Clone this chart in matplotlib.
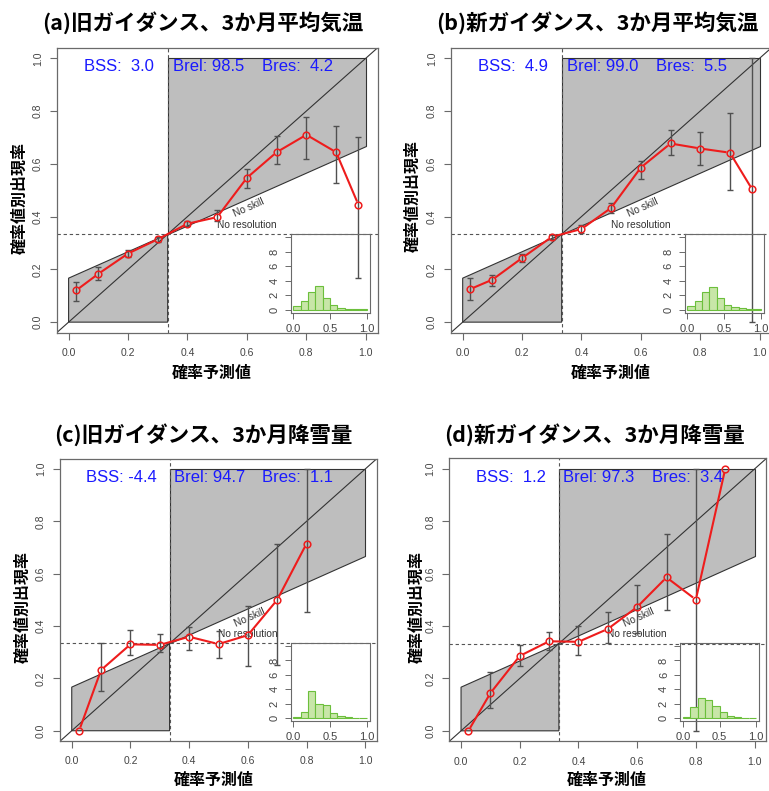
import matplotlib
matplotlib.use("Agg")
import matplotlib.pyplot as plt
import numpy as np
from matplotlib.patches import Polygon

plt.rcParams['font.family'] = ['Liberation Sans', 'Noto Sans CJK JP', 'DejaVu Sans']
CJK = ['Noto Sans CJK JP', 'DejaVu Sans']

W, H = 769, 791

# ---- data ----
titles = ["(a)旧ガイダンス、3か月平均気温", "(b)新ガイダンス、3か月平均気温",
          "(c)旧ガイダンス、3か月降雪量", "(d)新ガイダンス、3か月降雪量"]
ylabel = "確率値別出現率"
xlabel = "確率予測値"

prob_a = [0.025, 0.1, 0.2, 0.3, 0.4, 0.5, 0.6, 0.7, 0.8, 0.9, 0.975]
obs_a = [0.12, 0.183, 0.26, 0.314, 0.373, 0.398, 0.547, 0.644, 0.71, 0.644, 0.445]
lo_a = [0.079, 0.158, 0.246, 0.304, 0.363, 0.382, 0.507, 0.599, 0.619, 0.527, 0.166]
hi_a = [0.151, 0.208, 0.275, 0.323, 0.382, 0.424, 0.581, 0.704, 0.777, 0.744, 0.701]

prob_b = [0.025, 0.1, 0.2, 0.3, 0.4, 0.5, 0.6, 0.7, 0.8, 0.9, 0.975]
obs_b = [0.125, 0.161, 0.243, 0.323, 0.353, 0.433, 0.586, 0.677, 0.658, 0.642, 0.503]
lo_b = [0.085, 0.138, 0.227, 0.315, 0.338, 0.414, 0.544, 0.632, 0.595, 0.501, 0.0]
hi_b = [0.167, 0.178, 0.258, 0.329, 0.368, 0.452, 0.609, 0.727, 0.72, 0.794, 1.0]

prob_c = [0.025, 0.1, 0.2, 0.3, 0.4, 0.5, 0.6, 0.7, 0.8]
obs_c = [0.0, 0.232, 0.33, 0.328, 0.359, 0.331, 0.365, 0.5, 0.715]
lo_c = [0.0, 0.153, 0.288, 0.299, 0.309, 0.279, 0.246, 0.251, 0.454]
hi_c = [0.0, 0.335, 0.384, 0.371, 0.398, 0.382, 0.475, 0.715, 1.0]

prob_d = [0.025, 0.1, 0.2, 0.3, 0.4, 0.5, 0.6, 0.7, 0.8, 0.9]
obs_d = [0.0, 0.144, 0.286, 0.342, 0.34, 0.389, 0.473, 0.586, 0.501, 1.0]
lo_d = [0.0, 0.089, 0.247, 0.307, 0.288, 0.337, 0.373, 0.462, 0.0, 1.0]
hi_d = [0.0, 0.223, 0.326, 0.378, 0.402, 0.454, 0.558, 0.751, 1.0, 1.0]

# histogram of forecast probabilities (density, bins of 0.1)
hist_bins = [0.0, 0.1, 0.2, 0.3, 0.4, 0.5, 0.6, 0.7, 0.8, 0.9]
hist_a = [0.5, 1.2, 2.5, 3.25, 1.55, 0.6, 0.25, 0.08, 0.04, 0.03]
hist_b = [0.46, 1.15, 2.5, 3.1, 1.56, 0.6, 0.32, 0.18, 0.1, 0.05]
hist_c = [0.23, 0.92, 3.8, 1.93, 1.84, 0.74, 0.32, 0.14, 0.05, 0.03]
hist_d = [0.23, 1.56, 2.8, 2.48, 1.65, 0.83, 0.37, 0.14, 0.05, 0.03]

bss = [3.0, 4.9, -4.4, 1.2]
brel = [98.5, 99.0, 94.7, 97.3]
bres = [4.2, 5.5, 1.1, 3.4]
clim = 1 / 3

# ---- layout (pixels: left, top, right, bottom) ----
main_px = [(56.7, 47.7, 377.7, 332.7), (450.8, 47.7, 771.5, 332.7),
           (60.0, 458.5, 377.0, 741.2), (449.3, 458.5, 766.3, 741.3)]
inset_px = [(290.5, 234.3, 369.5, 312.6), (684.5, 234.3, 763.5, 312.6),
            (290.5, 643.0, 369.5, 721.2), (680.0, 643.0, 759.0, 721.2)]
title_px = [(203, 23), (597, 23), (203, 435), (594, 435)]
ylab_px = [(20, 198), (413, 196), (23, 607), (417, 607)]
xlab_px = [(212, 373), (611, 373), (214, 780), (607, 780)]


def rect(l, t, r, b):
    return [l / W, 1 - b / H, (r - l) / W, (b - t) / H]


def fxy(x, y):
    return x / W, 1 - y / H


def gapped_line(ax, x, y, gap=5.0, **kw):
    """R type='b': segments between points that stop short of each marker."""
    pts = ax.transData.transform(np.column_stack([x, y]))
    inv = ax.transData.inverted()
    for p0, p1 in zip(pts[:-1], pts[1:]):
        d = p1 - p0
        n = np.hypot(*d)
        if n <= 2 * gap:
            continue
        u = d / n
        seg = inv.transform(np.array([p0 + u * gap, p1 - u * gap]))
        ax.plot(seg[:, 0], seg[:, 1], **kw)


fig = plt.figure(figsize=(W / 100, H / 100), dpi=100)

panels = [(prob_a, obs_a, lo_a, hi_a, hist_a), (prob_b, obs_b, lo_b, hi_b, hist_b),
          (prob_c, obs_c, lo_c, hi_c, hist_c), (prob_d, obs_d, lo_d, hi_d, hist_d)]

spine_col = "#6a6a6a"
red = "#ee1c1c"
for i, (prob, obs, lo, hi, hist) in enumerate(panels):
    ax = fig.add_axes(rect(*main_px[i]))
    ax.set_xlim(-0.04, 1.04)
    ax.set_ylim(-0.04, 1.04)

    # skill regions
    ax.add_patch(Polygon([(0, 0), (0, clim / 2), (clim, clim), (clim, 0)],
                         closed=True, fc="#bebebe", ec="#333333", lw=0.8, zorder=1))
    ax.add_patch(Polygon([(clim, clim), (clim, 1), (1, 1), (1, (1 + clim) / 2)],
                         closed=True, fc="#bebebe", ec="#333333", lw=0.8, zorder=1))
    ax.axline((0, 0), (1, 1), color="#333333", lw=0.8, zorder=2)
    ax.axhline(clim, color="#555555", lw=0.8, ls=(0, (3, 2.5)), zorder=2)
    ax.axvline(clim, color="#555555", lw=0.8, ls=(0, (3, 2.5)), zorder=2)

    ax.text(0.605, 0.433, "No skill", fontsize=7.3, color="#333333", ha="center", va="center",
            rotation=np.degrees(np.arctan(0.5)), transform_rotates_text=True,
            rotation_mode="anchor", zorder=3)
    ax.text(0.6, 0.368, "No resolution", fontsize=7.3, color="#333333", ha="center",
            va="center", zorder=3)

    p = np.array(prob)
    o = np.array(obs)
    l = np.array(lo)
    h = np.array(hi)
    m = h > l
    ax.errorbar(p[m], o[m], yerr=[o[m] - l[m], h[m] - o[m]], fmt="none",
                ecolor="#505050", elinewidth=1.0, capsize=2.3, capthick=1.0, zorder=4)
    gapped_line(ax, p, o, gap=4.5, color=red, lw=1.5, zorder=5)
    ax.plot(p, o, ls="none", marker="o", ms=4.8, mfc="none", mec=red, mew=1.1, zorder=5)

    txt_kw = dict(fontsize=12, color="#1a1aff", ha="center", va="center", zorder=6)
    ax.text(0.17, 0.968, "BSS: %4.1f" % bss[i], **txt_kw)
    ax.text(0.47, 0.968, "Brel: %4.1f" % brel[i], **txt_kw)
    ax.text(0.77, 0.968, "Bres: %4.1f" % bres[i], **txt_kw)

    ticks = [0.0, 0.2, 0.4, 0.6, 0.8, 1.0]
    ax.set_xticks(ticks)
    ax.set_yticks(ticks)
    ax.set_xticklabels(["%.1f" % t for t in ticks])
    ax.set_yticklabels(["%.1f" % t for t in ticks], rotation=90, va="center")
    ax.tick_params(length=5, width=0.8, color=spine_col, labelsize=7.5,
                   labelcolor="#444444")
    ax.tick_params(axis="x", pad=6)
    ax.tick_params(axis="y", pad=5)
    for s in ax.spines.values():
        s.set_color(spine_col)
        s.set_linewidth(0.9)

    # inset histogram
    ins = fig.add_axes(rect(*inset_px[i]), facecolor="none")
    ins.bar(hist_bins, hist, width=0.1, align="edge", color="#c8e6a8",
            edgecolor="#6cbf3c", lw=0.8)
    ins.set_xlim(-0.04, 1.04)
    ins.set_ylim(-0.4, 10.4)
    ins.set_xticks([0.0, 0.5, 1.0])
    ins.set_xticklabels(["0.0", "0.5", "1.0"])
    ins.set_yticks([0, 2, 4, 6, 8, 10])
    ins.set_yticklabels(["0", "2", "4", "6", "8", ""], rotation=90, va="center")
    ins.tick_params(length=4, width=0.7, color=spine_col, labelsize=8,
                    labelcolor="#444444", pad=4)
    for s in ins.spines.values():
        s.set_color(spine_col)
        s.set_linewidth(0.8)

    fig.text(*fxy(*title_px[i]), titles[i], family=CJK, fontsize=15.5, fontweight="bold",
             ha="center", va="center")
    fig.text(*fxy(*ylab_px[i]), ylabel, family=CJK, fontsize=11.5, fontweight="bold",
             rotation=90, ha="center", va="center")
    fig.text(*fxy(*xlab_px[i]), xlabel, family=CJK, fontsize=11.5, fontweight="bold",
             ha="center", va="center")

fig.savefig("out.png", dpi=100)
